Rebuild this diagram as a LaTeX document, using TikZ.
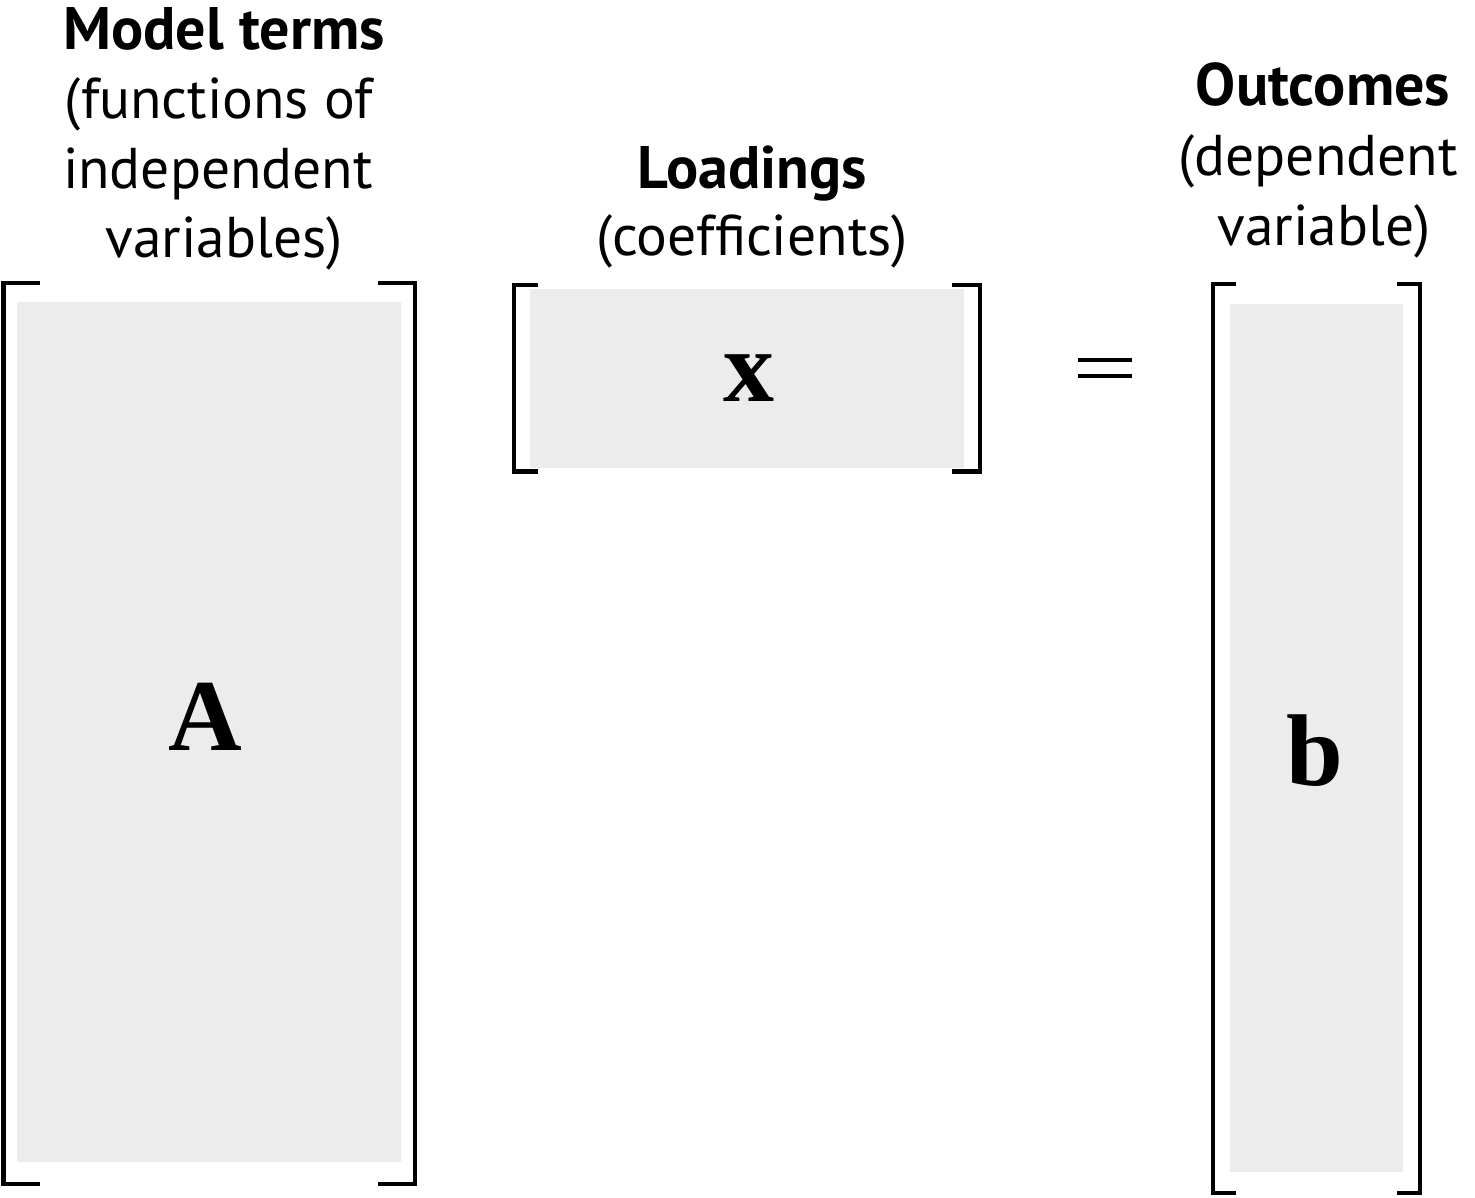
\documentclass[tikz,border=0pt]{standalone}
\usepackage{fontspec}
\setmainfont{PT Sans}
\newfontfamily\tnr{Liberation Serif}
\definecolor{matgray}{HTML}{ECECEC}
\tikzset{
  matbox/.style={fill=matgray, draw=none, inner sep=0pt, outer sep=0pt},
  brack/.style={line width=4.5pt, line join=miter, line cap=butt},
  head/.style={font=\fontsize{60}{64}\selectfont\bfseries, anchor=base, inner sep=0pt},
  sub/.style={font=\fontsize{57.5}{62}\selectfont, anchor=base, inner sep=0pt},
  letter/.style={font=\fontsize{102}{110}\selectfont\tnr\bfseries, anchor=base, inner sep=0pt}
}
\begin{document}
\begin{tikzpicture}[x=1pt,y=-1pt]
\useasboundingbox (0,0) rectangle (1475,1197);
% gray matrices
\node[matbox, minimum width=384pt, minimum height=860pt] (Arect) at (209,732) {};
\node[matbox, minimum width=434pt, minimum height=179pt] (xrect) at (747,378.5) {};
\node[matbox, minimum width=173pt, minimum height=868pt] (brect) at (1316.5,738) {};
% brackets
\draw[brack] (40,283) -- (3.5,283) -- (3.5,1184) -- (40,1184);
\draw[brack] (378,283) -- (415,283) -- (415,1184) -- (378,1184);
\draw[brack] (538,285) -- (514,285) -- (514,471.5) -- (538,471.5);
\draw[brack] (952,285) -- (980,285) -- (980,471.5) -- (952,471.5);
\draw[brack] (1236,284) -- (1213,284) -- (1213,1193) -- (1236,1193);
\draw[brack] (1397,284) -- (1420,284) -- (1420,1193) -- (1397,1193);
% equals
\draw[line width=4pt] (1078,360) -- (1132,360);
\draw[line width=4pt] (1078,376) -- (1132,376);
% letters
\node[letter] (A) at (205,750) {A};
\node[letter] (x) at (749,401) {x};
\node[letter] (b) at (1315,785) {b};
% headings
\node[head] (mt1) at (224,49) {Model terms};
\node[sub] (mt2) at (219,118) {(functions of};
\node[sub] (mt3) at (218,188) {independent};
\node[sub] (mt4) at (224,257) {variables)};
\node[head] (ld1) at (752,188) {Loadings};
\node[sub] (ld2) at (752,255) {(coefficients)};
\node[head] (oc1) at (1323,105) {Outcomes};
\node[sub] (oc2) at (1318,175) {(dependent};
\node[sub] (oc3) at (1324,245) {variable)};
\end{tikzpicture}
\end{document}
